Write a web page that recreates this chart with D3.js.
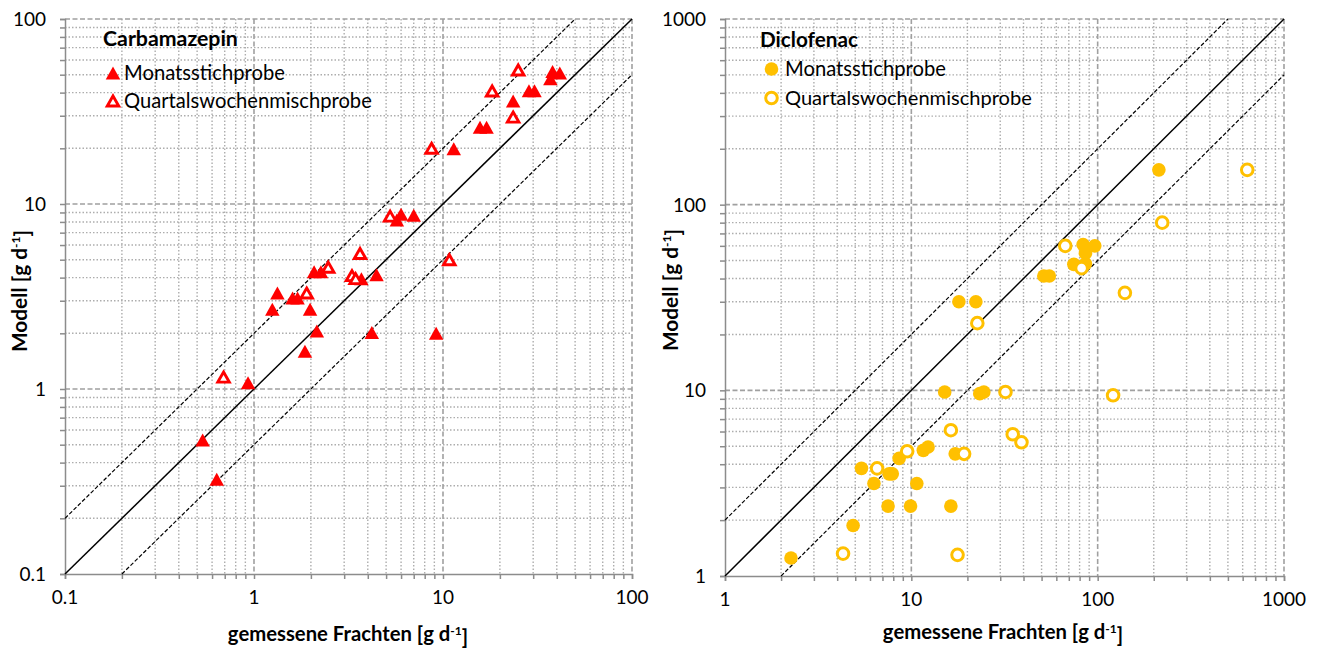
<!DOCTYPE html>
<html><head><meta charset="utf-8">
<script src="https://cdn.jsdelivr.net/npm/d3@7"></script>
<style>
body{margin:0;background:#fff;}
text{font-family:Lato,"Open Sans",sans-serif;fill:#000;}
</style>
</head><body>
<svg id="chart" width="1322" height="648"></svg>
<script>
// ---------- DATA ----------
// Carbamazepin: [gemessene Fracht, Modell] in g/d
const carbaMonats = [
  [38,52],[41.5,51],[37,47.5],[28.5,41],[30.5,41],[23.5,36],[15.7,26],[17,26],
  [11.4,19.9],[5.7,8.2],[6.0,8.8],[7.0,8.7],[3.7,3.95],[4.45,4.15],[2.08,4.3],
  [2.26,4.3],[1.33,3.3],[1.6,3.1],[1.7,3.1],[1.25,2.7],[1.98,2.7],[2.15,2.06],
  [4.2,2.02],[9.2,2.0],[1.86,1.6],[0.93,1.08],[0.535,0.53],[0.635,0.325]
];
const carbaQuartal = [
  [25,53],[18.2,40.8],[23.5,29.5],[8.7,20],[5.25,8.6],[3.64,5.4],[10.8,5.0],
  [2.47,4.55],[3.3,4.1],[3.45,3.95],[1.9,3.3],[0.69,1.16]
];
// Diclofenac
const dicloMonats = [
  [213,154],[83.5,61],[96.5,60],[86,54.7],[74.5,47.7],[86,48],[51.4,41.3],[55,41.3],
  [18,30],[22.2,30],[15.1,9.8],[23.3,9.6],[24.5,9.8],[11.6,4.75],[12.3,4.95],
  [8.6,4.3],[17.2,4.55],[5.4,3.8],[7.6,3.55],[7.9,3.55],[6.3,3.15],[10.7,3.15],
  [7.5,2.38],[9.9,2.38],[16.3,2.38],[4.87,1.87],[2.26,1.25]
];
const dicloQuartal = [
  [635,154],[222,80],[67,60],[82,45.5],[140,33.5],[22.6,23],[32,9.8],[121,9.4],
  [35,5.8],[39,5.25],[16.3,6.1],[9.5,4.7],[19.2,4.55],[6.55,3.8],[4.3,1.32],[17.7,1.3]
];
const leftTicks = [0.1, 1, 10, 100];
const leftTickLabels = ["0.1", "1", "10", "100"];
const rightTicks = [1, 10, 100, 1000];
const rightTickLabels = ["1", "10", "100", "1000"];
const refFactors = [1, 2, 0.5];
const seriesNames = ["Monatsstichprobe", "Quartalswochenmischprobe"];
const xTitle = "gemessene Frachten [g d";
const yTitle = "Modell [g d";

// ---------- DRAW ----------
const svg = d3.select("#chart");
const RED = "#FF0000", GOLD = "#FFC000";

function fit(sel, target){
  const w = sel.node().getComputedTextLength();
  const fs = parseFloat(sel.attr("font-size"));
  sel.attr("font-size", fs*target/w);
}

function triPath(w,h){ return `M0,${-h/2}L${w/2},${h/2}L${-w/2},${h/2}Z`; }

function panel(cfg){
  const g = svg.append("g");
  const x = d3.scaleLog().domain(cfg.dom).range([cfg.x0, cfg.x1]);
  const y = d3.scaleLog().domain(cfg.dom).range([cfg.y1, cfg.y0]);
  const decs = cfg.ticks;
  const minors = [];
  for (let i=0;i<decs.length-1;i++) for (let k=2;k<=9;k++) minors.push(decs[i]*k);
  const all = minors.concat(decs);

  // minor grid (dotted)
  g.selectAll(".mgx").data(minors).join("line")
    .attr("x1",d=>x(d)).attr("x2",d=>x(d)).attr("y1",cfg.y0).attr("y2",cfg.y1)
    .attr("stroke","#ADADAD").attr("stroke-width",1.4).attr("stroke-dasharray","1.5,2");
  g.selectAll(".mgy").data(minors).join("line")
    .attr("y1",d=>y(d)).attr("y2",d=>y(d)).attr("x1",cfg.x0).attr("x2",cfg.x1)
    .attr("stroke","#ADADAD").attr("stroke-width",1.4).attr("stroke-dasharray","1.5,2");
  // major grid (dashed)
  g.selectAll(".Mgx").data(decs.slice(1)).join("line")
    .attr("x1",d=>x(d)).attr("x2",d=>x(d)).attr("y1",cfg.y0).attr("y2",cfg.y1)
    .attr("stroke","#A0A0A0").attr("stroke-width",1.6).attr("stroke-dasharray","5,2.5");
  g.selectAll(".Mgy").data(decs.slice(1)).join("line")
    .attr("y1",d=>y(d)).attr("y2",d=>y(d)).attr("x1",cfg.x0).attr("x2",cfg.x1)
    .attr("stroke","#A0A0A0").attr("stroke-width",1.6).attr("stroke-dasharray","5,2.5");

  // axes
  const ax = g.append("g").attr("transform",`translate(0,${cfg.y1})`)
    .call(d3.axisBottom(x).tickValues(all).tickSize(5).tickFormat(""));
  const ay = g.append("g").attr("transform",`translate(${cfg.x0},0)`)
    .call(d3.axisLeft(y).tickValues(all).tickSize(5).tickFormat(""));
  [ax,ay].forEach(a=>{
    a.selectAll("path,line").attr("stroke","#8C8C8C").attr("stroke-width",1.5);
  });

  // tick labels
  g.selectAll(".xl").data(decs).join("text")
    .attr("x",(d)=>x(d)).attr("y",cfg.y1+30).attr("text-anchor","middle")
    .attr("font-size",19).text((d,i)=>cfg.labels[i]);
  g.selectAll(".yl").data(decs).join("text")
    .attr("x",cfg.x0-19).attr("y",d=>y(d)).attr("dy","0.36em").attr("text-anchor","end")
    .attr("font-size",19).text((d,i)=>cfg.labels[i]);

  // reference lines
  const lo = cfg.dom[0], hi = cfg.dom[1];
  refFactors.forEach(f=>{
    const xs = Math.max(lo, lo/f), xe = Math.min(hi, hi/f);
    g.append("line").attr("x1",x(xs)).attr("y1",y(xs*f)).attr("x2",x(xe)).attr("y2",y(xe*f))
      .attr("stroke","#000").attr("stroke-width",f===1?1.5:1.2)
      .attr("stroke-dasharray",f===1?null:"4,2");
  });

  // points
  if (cfg.shape==="tri"){
    g.selectAll(".p1").data(cfg.s1).join("path").attr("d",triPath(14.5,13))
      .attr("transform",d=>`translate(${x(d[0])},${y(d[1])})`).attr("fill",cfg.color);
    g.selectAll(".p2").data(cfg.s2).join("path").attr("d",triPath(11.5,10))
      .attr("transform",d=>`translate(${x(d[0])},${y(d[1])})`)
      .attr("fill","#fff").attr("stroke",cfg.color).attr("stroke-width",2.9).attr("stroke-linejoin","miter");
  } else {
    g.selectAll(".p1").data(cfg.s1).join("circle").attr("r",6.8)
      .attr("cx",d=>x(d[0])).attr("cy",d=>y(d[1])).attr("fill",cfg.color);
    g.selectAll(".p2").data(cfg.s2).join("circle").attr("r",5.8)
      .attr("cx",d=>x(d[0])).attr("cy",d=>y(d[1]))
      .attr("fill","#fff").attr("stroke",cfg.color).attr("stroke-width",3);
  }

  // legend
  const L = cfg.legend;
  const t0 = g.append("text").attr("x",L.tx).attr("y",L.ty).attr("dy","0.36em")
    .attr("font-weight","bold").attr("font-size",18).text(cfg.name);
  fit(t0, L.tw);
  [0,1].forEach(i=>{
    const yy = L.y[i];
    if (cfg.shape==="tri"){
      if (i===0) g.append("path").attr("d",triPath(14.5,13)).attr("transform",`translate(${L.mx},${yy})`).attr("fill",cfg.color);
      else g.append("path").attr("d",triPath(11.5,10)).attr("transform",`translate(${L.mx},${yy})`)
        .attr("fill","#fff").attr("stroke",cfg.color).attr("stroke-width",2.9);
    } else {
      if (i===0) g.append("circle").attr("cx",L.mx).attr("cy",yy).attr("r",6.8).attr("fill",cfg.color);
      else g.append("circle").attr("cx",L.mx).attr("cy",yy).attr("r",5.8).attr("fill","#fff")
        .attr("stroke",cfg.color).attr("stroke-width",3);
    }
    const t = g.append("text").attr("x",L.lx).attr("y",yy).attr("dy","0.36em")
      .attr("font-size",18).text(seriesNames[i]);
    fit(t, L.lw[i]);
  });

  // axis titles
  const xt = g.append("text").attr("x",cfg.xtx).attr("y",cfg.xty).attr("dy","0.36em")
    .attr("text-anchor","middle").attr("font-weight","bold").attr("font-size",18);
  xt.append("tspan").text(xTitle);
  xt.append("tspan").attr("font-size",12).attr("dy","-0.55em").text("-1");
  xt.append("tspan").attr("dy","0.45em").text("]");
  fit(xt, 242);

  const yt = g.append("text").attr("transform",`translate(${cfg.ytx},${cfg.yty}) rotate(-90)`)
    .attr("dy","0.36em").attr("text-anchor","middle").attr("font-weight","bold").attr("font-size",18);
  yt.append("tspan").text(yTitle);
  yt.append("tspan").attr("font-size",12).attr("dy","-0.55em").text("-1");
  yt.append("tspan").attr("dy","0.45em").text("]");
  fit(yt, 124);
}

panel({
  dom:[0.1,100], ticks:leftTicks, labels:leftTickLabels,
  x0:65, x1:632, y0:19, y1:574,
  s1:carbaMonats, s2:carbaQuartal, shape:"tri", color:RED, name:"Carbamazepin",
  legend:{tx:103, ty:38, tw:135, mx:113, y:[73,101], lx:124, lw:[161,248]},
  xtx:348, xty:634, ytx:19, yty:291
});
panel({
  dom:[1,1000], ticks:rightTicks, labels:rightTickLabels,
  x0:725, x1:1284, y0:19, y1:576,
  s1:dicloMonats, s2:dicloQuartal, shape:"circ", color:GOLD, name:"Diclofenac",
  legend:{tx:760, ty:40, tw:98, mx:771.5, y:[69,98], lx:785, lw:[161,247]},
  xtx:1003, xty:632, ytx:670, yty:290
});
</script>
</body></html>
